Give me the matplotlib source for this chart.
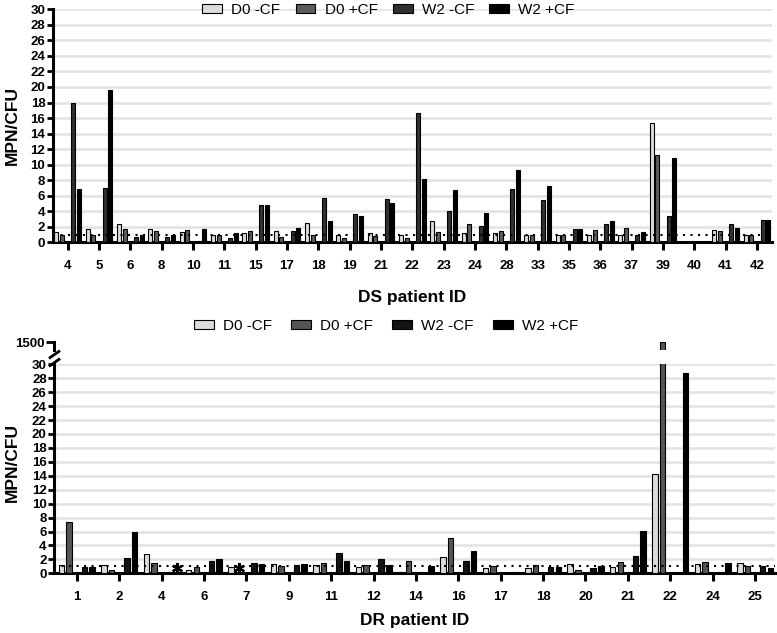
import numpy as np
import matplotlib.pyplot as plt
from matplotlib.patches import Patch

plt.rcParams['font.family'] = ['Liberation Sans', 'DejaVu Sans']

# DS patients (top panel)
ds_ids = ['4', '5', '6', '8', '10', '11', '15', '17', '18', '19', '21', '22',
          '23', '24', '28', '33', '35', '36', '37', '39', '40', '41', '42']
ds_d0_minus = [1.3, 1.7, 2.4, 1.7, 1.3, 1.0, 1.2, 1.5, 2.5, 0.9, 1.2, 1.0,
               2.7, 1.2, 1.2, 0.9, 0.9, 0.9, 0.9, 15.3, np.nan, 1.6, 0.9]
ds_d0_plus = [1.0, 0.9, 1.7, 1.5, 1.6, 0.9, 1.5, 0.7, 0.9, 0.6, 0.8, 0.6,
              1.3, 2.4, 1.5, 0.9, 1.0, 1.6, 1.8, 11.3, np.nan, 1.5, 0.9]
ds_w2_minus = [17.9, 7.0, 0.7, 0.7, 0.2, 0.6, 4.8, 1.5, 5.7, 3.7, 5.6, 16.7,
               4.0, 2.1, 6.9, 5.4, 1.7, 2.4, 0.9, 3.4, np.nan, 2.3, 2.9]
ds_w2_plus = [6.8, 19.6, 0.9, 0.9, 1.7, 1.2, 4.8, 1.8, 2.8, 3.4, 5.0, 8.2,
              6.7, 3.8, 9.3, 7.3, 1.7, 2.8, 1.3, 10.9, np.nan, 1.9, 2.9]

# DR patients (bottom panel)
dr_ids = ['1', '2', '4', '6', '7', '9', '11', '12', '14', '16', '17', '18',
          '20', '21', '22', '24', '25']
dr_d0_minus = [1.15, 1.2, 2.7, 0.5, 0.9, 1.3, 1.15, 0.9, 0.2, 2.4, 0.7, 0.75,
               1.3, 0.9, 14.2, 1.3, 1.45]
dr_d0_plus = [7.3, 0.5, 1.45, 0.9, np.nan, 1.0, 1.45, 1.15, 1.8, 5.1, 1.0, 1.2,
              0.5, 1.6, 1500, 1.6, 1.0]
dr_w2_minus = [0.9, 2.15, 0.2, 1.7, 1.45, 1.15, 2.9, 2.0, 0.2, 1.8, np.nan, 0.95,
               0.75, 2.5, np.nan, 0.2, 1.0]
dr_w2_plus = [0.9, 6.0, np.nan, 2.0, 1.3, 1.3, 1.8, 1.15, 1.0, 3.2, 0.2, 0.95,
              1.1, 6.1, 28.7, 1.45, 0.7]
# (patient index, series index) marked with an asterisk
dr_asterisks = [(2, 3), (4, 1)]

labels = ['D0 -CF', 'D0 +CF', 'W2 -CF', 'W2 +CF']
offsets = [-0.36, -0.18, 0.18, 0.36]
bar_w = 0.13
ds_colors = ['#dcdcdc', '#5c5c5c', '#303030', '#000000']
dr_colors = ['#dcdcdc', '#555555', '#141414', '#000000']

W, H = 777, 633
fig = plt.figure(figsize=(W / 100, H / 100), dpi=100)


def px_axes(x0, x1, ytop, ybot):
    return fig.add_axes([x0 / W, 1 - ybot / H, (x1 - x0) / W, (ybot - ytop) / H])


def style_axes(ax, ids):
    for s in ['top', 'right']:
        ax.spines[s].set_visible(False)
    for s in ['left', 'bottom']:
        ax.spines[s].set_linewidth(2.2)
    ax.set_ylim(0, 30)
    ax.set_yticks(range(0, 31, 2))
    ax.set_xticks(range(len(ids)))
    ax.set_xticklabels(ids)
    ax.tick_params(axis='y', length=4.5, width=2, pad=1, labelsize=9.5)
    ax.tick_params(axis='x', length=6, width=2.2, pad=7, labelsize=9.5)
    for t in ax.get_xticklabels() + ax.get_yticklabels():
        t.set_fontweight('bold')
    ax.yaxis.grid(True, color='#e3e3e3', linewidth=1.8, zorder=0)
    ax.set_axisbelow(True)
    ax.axhline(1, color='black', linestyle=(0, (1, 2.6)), linewidth=1.5, zorder=4)


def draw_bars(ax, series, colors):
    x = np.arange(len(series[0]))
    for vals, off, col in zip(series, offsets, colors):
        ax.bar(x + off, vals, bar_w, color=col, edgecolor='black',
               linewidth=0.8, zorder=3)


# ---- top panel
ax1 = px_axes(53, 772, 9.3, 242.3)
style_axes(ax1, ds_ids)
draw_bars(ax1, [ds_d0_minus, ds_d0_plus, ds_w2_minus, ds_w2_plus], ds_colors)
ax1.set_xlim(-0.47, len(ds_ids) - 1 + 0.48)
ax1.set_ylabel('MPN/CFU', fontsize=12.5, fontweight='bold')
ax1.yaxis.set_label_coords(-0.046, 0.5)
ax1.set_xlabel('DS patient ID', fontsize=12.5, fontweight='bold')
ax1.xaxis.set_label_coords(0.5, -0.205)

handles = [Patch(facecolor=c, edgecolor='black', linewidth=0.8) for c in ds_colors]
fig.legend(handles, labels, loc='center', bbox_to_anchor=(0.5, 1 - 10 / H), ncol=4,
           frameon=False, fontsize=11, handlelength=1.3, handleheight=0.6,
           handletextpad=0.6, columnspacing=1.0)

# ---- bottom panel (broken axis)
ax2 = px_axes(54.3, 775, 364.3, 573.3)
style_axes(ax2, dr_ids)
dr_series = [dr_d0_minus, dr_d0_plus, dr_w2_minus, dr_w2_plus]
draw_bars(ax2, dr_series, dr_colors)
ax2.set_xlim(-0.53, len(dr_ids) - 1 + 0.47)
ax2.set_ylabel('MPN/CFU', fontsize=12.5, fontweight='bold')
ax2.yaxis.set_label_coords(-0.048, 0.53)
ax2.set_xlabel('DR patient ID', fontsize=12.5, fontweight='bold')
ax2.xaxis.set_label_coords(0.5, -0.19)

for gi, si in dr_asterisks:
    ax2.plot(gi + offsets[si], 0.75, marker=(6, 2, 0), markersize=8, mew=1.6,
             color='black', zorder=5)

ax3 = px_axes(54.3, 775, 342.3, 349.5)
ax3.patch.set_visible(False)
draw_bars(ax3, dr_series, dr_colors)
ax3.set_xlim(ax2.get_xlim())
ax3.set_ylim(1000, 1500)
for s in ['top', 'right', 'bottom']:
    ax3.spines[s].set_visible(False)
ax3.spines['left'].set_linewidth(2.2)
ax3.set_xticks([])
ax3.set_yticks([1500])
ax3.set_yticklabels(['1500'], fontweight='bold')
ax3.tick_params(axis='y', length=6, width=2, pad=1, labelsize=9.5)

# break marks on the y axis
for yf in [1.012, 1.05]:
    ax2.plot([0], [yf], transform=ax2.transAxes, marker=[(-1, -0.7), (1, 0.7)],
             markersize=8, mew=2, color='black', clip_on=False)

fig.legend([Patch(facecolor=c, edgecolor='black', linewidth=0.8) for c in dr_colors],
           labels, loc='center', bbox_to_anchor=(0.497, 1 - 326 / H), ncol=4,
           frameon=False, fontsize=11, handlelength=1.3, handleheight=0.6,
           handletextpad=0.6, columnspacing=1.25)

fig.savefig('out.png', dpi=100)
